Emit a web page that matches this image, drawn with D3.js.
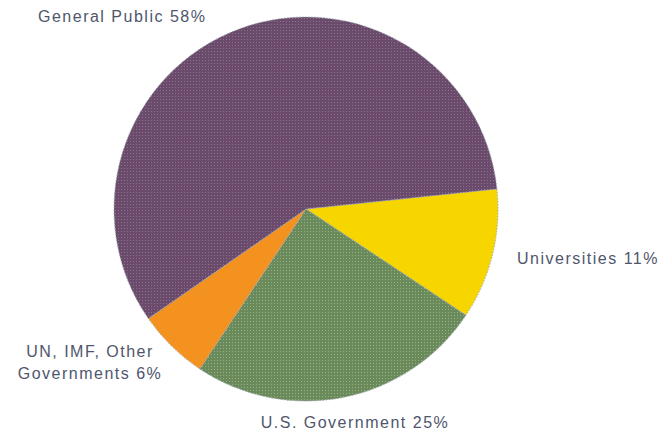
<!DOCTYPE html>
<html>
<head>
<meta charset="utf-8">
<script src="https://cdn.jsdelivr.net/npm/d3@7"></script>
<style>
  body { margin: 0; background: #fff; }
  text { font-family: "Liberation Sans", Arial, sans-serif; font-size: 16px; fill: #4f566c; letter-spacing: 1.5px; }
</style>
</head>
<body>
<svg width="672" height="434"></svg>
<script>
// chart data
const categories = ['Universities', 'U.S. Government', 'UN, IMF, Other Governments', 'General Public']
const values = [11, 25, 6, 58]
const labelLines = [['Universities 11%'], ['U.S. Government 25%'], ['UN, IMF, Other', 'Governments 6%'], ['General Public 58%']]

const fills = ['#f7d600', '#6b8a5c', '#f3921f', '#6a4b6c']
const dots = [null, '#93b282', null, '#8d708d']

// label placement (x, y of first baseline, anchor)
const labelPos = [
  [517, 264, 'start'],
  [355, 428, 'middle'],
  [90, 357, 'middle'],
  [38, 22, 'start'],
]

const svg = d3.select('svg'),
  width = +svg.attr('width'),
  height = +svg.attr('height')

const cx = 306, cy = 209, radius = 192
const startAngle = (84 * Math.PI) / 180

// dotted textures
const defs = svg.append('defs')
fills.forEach((c, i) => {
  if (!dots[i]) return
  const p = defs.append('pattern')
    .attr('id', 'pat' + i)
    .attr('width', 3).attr('height', 3)
    .attr('patternUnits', 'userSpaceOnUse')
  p.append('rect').attr('width', 3).attr('height', 3).attr('fill', c)
  p.append('rect').attr('x', 1).attr('y', 1).attr('width', 1).attr('height', 1).attr('fill', dots[i])
})

const pie = d3.pie()
  .sort(null)
  .value(d => d)
  .startAngle(startAngle)
  .endAngle(startAngle + 2 * Math.PI)

const arc = d3.arc().innerRadius(0).outerRadius(radius)

const g = svg.append('g').attr('transform', `translate(${cx},${cy})`)

g.selectAll('path')
  .data(pie(values))
  .join('path')
  .attr('d', arc)
  .attr('fill', (d, i) => (dots[i] ? `url(#pat${i})` : fills[i]))
  .attr('stroke', '#9ea4b0')
  .attr('stroke-width', 1)
  .attr('stroke-dasharray', '1.5,1.5')

// labels
labelLines.forEach((lines, i) => {
  const [x, y, anchor] = labelPos[i]
  const t = svg.append('text')
    .attr('x', x)
    .attr('y', y)
    .attr('text-anchor', anchor)
  lines.forEach((line, j) => {
    t.append('tspan')
      .attr('x', x)
      .attr('dy', j === 0 ? 0 : 22)
      .text(line)
  })
})
</script>
</body>
</html>
